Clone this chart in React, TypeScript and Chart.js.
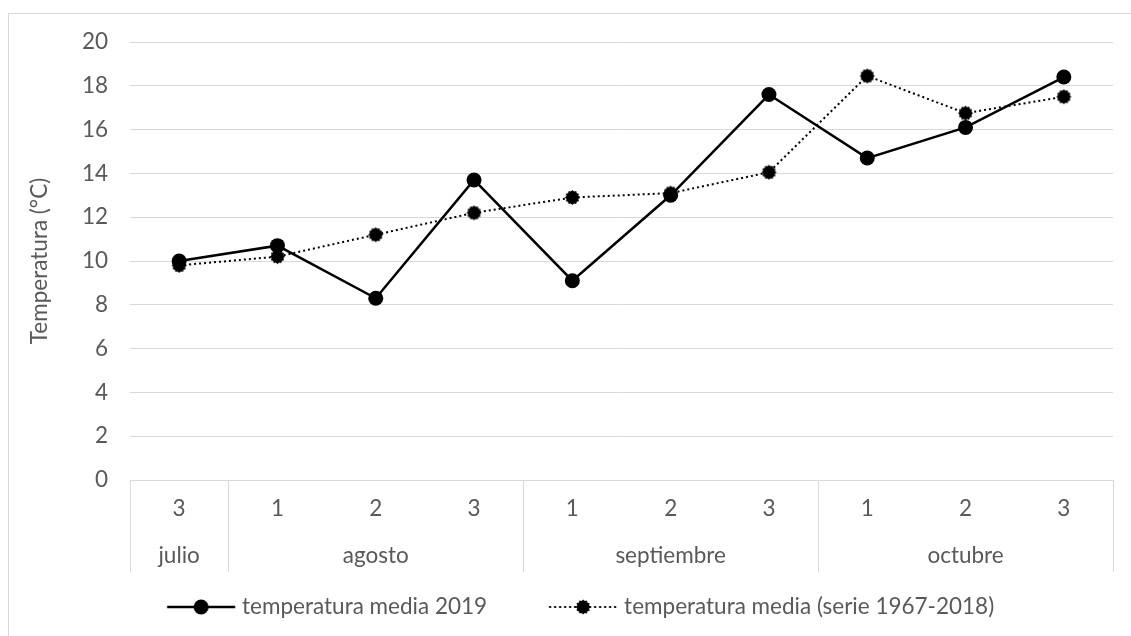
import React, { useEffect, useRef } from "react";
import { Chart, registerables } from "chart.js";
Chart.register(...registerables);

const decadeLabels = ["3", "1", "2", "3", "1", "2", "3", "1", "2", "3"];
const months = ["julio", "agosto", "septiembre", "octubre"];
const monthSpans = [1, 3, 3, 3];
const temp2019 = [10.0, 10.7, 8.3, 13.7, 9.1, 13.0, 17.6, 14.7, 16.1, 18.4];
const tempSerie = [9.8, 10.2, 11.2, 12.2, 12.9, 13.1, 14.05, 18.45, 16.75, 17.5];
const seriesNames = ["temperatura media 2019", "temperatura media (serie 1967-2018)"];
const yTitle = "Temperatura (°C)";
const yMin = 0;
const yMax = 20;
const yStep = 2;

const FONT = "Lato";
const FS = 22.5;
const TEXT = "#595959";
const GRID = "#d9d9d9";
const LEG_PAD = 23.75;
const BOX_W = 102;

function drawGear(g: CanvasRenderingContext2D, cx: number, cy: number, r: number) {
  const teeth = 12;
  g.fillStyle = "#000";
  g.beginPath();
  for (let i = 0; i < teeth * 2; i++) {
    const a = (i * Math.PI) / teeth;
    const rr = i % 2 === 0 ? r : r * 0.82;
    if (i === 0) g.moveTo(cx + rr * Math.cos(a), cy + rr * Math.sin(a));
    else g.lineTo(cx + rr * Math.cos(a), cy + rr * Math.sin(a));
  }
  g.closePath();
  g.fill();
}

function gearCanvas(r: number) {
  const c = document.createElement("canvas");
  const size = Math.ceil(2 * r + 2);
  c.width = size;
  c.height = size;
  const g = c.getContext("2d")!;
  drawGear(g, size / 2, size / 2, r);
  return c;
}

function legendIcon(kind: number) {
  const c = document.createElement("canvas");
  c.width = BOX_W + 10;
  c.height = 20;
  const g = c.getContext("2d")!;
  const x1 = BOX_W + 9.25;
  const x0 = x1 - 68;
  const cx = (x0 + x1) / 2;
  g.strokeStyle = "#000";
  if (kind === 0) {
    g.lineWidth = 2.5;
    g.beginPath();
    g.moveTo(x0, 10);
    g.lineTo(x1, 10);
    g.stroke();
    g.fillStyle = "#000";
    g.beginPath();
    g.arc(cx, 10, 7.5, 0, Math.PI * 2);
    g.fill();
  } else {
    g.lineWidth = 2;
    g.setLineDash([2, 3]);
    g.beginPath();
    g.moveTo(x0, 10);
    g.lineTo(x1, 10);
    g.stroke();
    g.setLineDash([]);
    drawGear(g, cx, 10, 7.5);
  }
  return c;
}

const separatorPlugin = {
  id: "monthSeparators",
  afterDraw(chart: any) {
    const x = chart.scales.x;
    const x2 = chart.scales.x2;
    const ctx = chart.ctx;
    const bounds: number[] = [x.left];
    let idx = 0;
    monthSpans.forEach((s) => {
      idx += s;
      if (idx < decadeLabels.length) {
        bounds.push((x.getPixelForValue(idx - 1) + x.getPixelForValue(idx)) / 2);
      }
    });
    bounds.push(x.right);
    ctx.save();
    ctx.strokeStyle = GRID;
    ctx.lineWidth = 1;
    bounds.forEach((b) => {
      const px = Math.round(b) + 0.5;
      ctx.beginPath();
      ctx.moveTo(px, x.top);
      ctx.lineTo(px, x2.bottom);
      ctx.stroke();
    });
    ctx.restore();
  },
};

export default function App() {
  const ref = useRef<HTMLCanvasElement | null>(null);

  useEffect(() => {
    if (!ref.current) return;
    const monthCenters: number[] = [];
    let start = 0;
    monthSpans.forEach((s) => {
      monthCenters.push(start + (s - 1) / 2);
      start += s;
    });
    const icons = [legendIcon(0), legendIcon(1)];
    const gear = gearCanvas(7.5);

    const chart = new Chart(ref.current, {
      type: "line",
      data: {
        labels: decadeLabels,
        datasets: [
          {
            label: seriesNames[0],
            data: temp2019,
            borderColor: "#000",
            backgroundColor: "#000",
            borderWidth: 2.5,
            pointRadius: 7.5,
            pointBorderWidth: 0,
            pointBackgroundColor: "#000",
            tension: 0,
            fill: false,
          },
          {
            label: seriesNames[1],
            data: tempSerie,
            borderColor: "#000",
            backgroundColor: "#000",
            borderWidth: 2,
            borderDash: [2, 3],
            pointStyle: gear as any,
            pointRadius: 7.5,
            tension: 0,
            fill: false,
          },
        ],
      },
      options: {
        animation: false,
        responsive: false,
        layout: { padding: { left: 10, right: 18, top: 42, bottom: 7.75 } },
        plugins: {
          tooltip: { enabled: false },
          legend: {
            position: "bottom",
            labels: {
              usePointStyle: true,
              pointStyleWidth: BOX_W,
              padding: LEG_PAD,
              color: TEXT,
              font: { family: FONT, size: FS },
              generateLabels: () =>
                seriesNames.map((t, i) => ({
                  text: t,
                  pointStyle: icons[i] as any,
                  fillStyle: "#000",
                  strokeStyle: "#000",
                  lineWidth: 0,
                  hidden: false,
                  datasetIndex: i,
                  fontColor: TEXT,
                })),
            },
          },
        },
        scales: {
          x: {
            type: "category",
            position: "bottom",
            offset: true,
            weight: 0,
            grid: { display: false, drawTicks: false },
            border: { display: true, color: GRID },
            ticks: { color: TEXT, font: { family: FONT, size: FS }, padding: 15.5, maxRotation: 0, autoSkip: false },
            afterFit: (s: any) => {
              s.height = 55;
            },
          },
          x2: {
            type: "linear",
            position: "bottom",
            weight: 1,
            min: -0.5,
            max: decadeLabels.length - 0.5,
            offset: false,
            grid: { display: false, drawTicks: false },
            border: { display: false },
            afterBuildTicks: (s: any) => {
              s.ticks = monthCenters.map((v) => ({ value: v }));
            },
            ticks: {
              color: TEXT,
              font: { family: FONT, size: FS },
              padding: 7.5,
              autoSkip: false,
              maxRotation: 0,
              callback: (_v: any, i: number) => months[i],
            },
            afterFit: (s: any) => {
              s.height = 37;
            },
          },
          y: {
            type: "linear",
            min: yMin,
            max: yMax,
            grid: { color: GRID, lineWidth: 1, drawTicks: false },
            border: { display: false },
            ticks: { stepSize: yStep, color: TEXT, font: { family: FONT, size: FS }, padding: 22 },
            title: {
              display: true,
              text: yTitle,
              color: TEXT,
              font: { family: FONT, size: FS },
              padding: { top: 16.5, bottom: 0 },
            },
            afterFit: (s: any) => {
              s.width = 120;
            },
          },
        },
      },
      plugins: [separatorPlugin],
    });
    return () => chart.destroy();
  }, []);

  return (
    <div style={{ position: "fixed", left: 0, top: 0, width: 1131, height: 636, background: "#fff", overflow: "hidden" }}>
      <div
        style={{
          position: "absolute",
          left: 8,
          top: 13,
          width: 1140,
          height: 640,
          borderLeft: `1px solid ${GRID}`,
          borderTop: `1px solid ${GRID}`,
        }}
      />
      <canvas ref={ref} width={1131} height={636} style={{ position: "absolute", left: 0, top: 0, width: 1131, height: 636 }} />
    </div>
  );
}
